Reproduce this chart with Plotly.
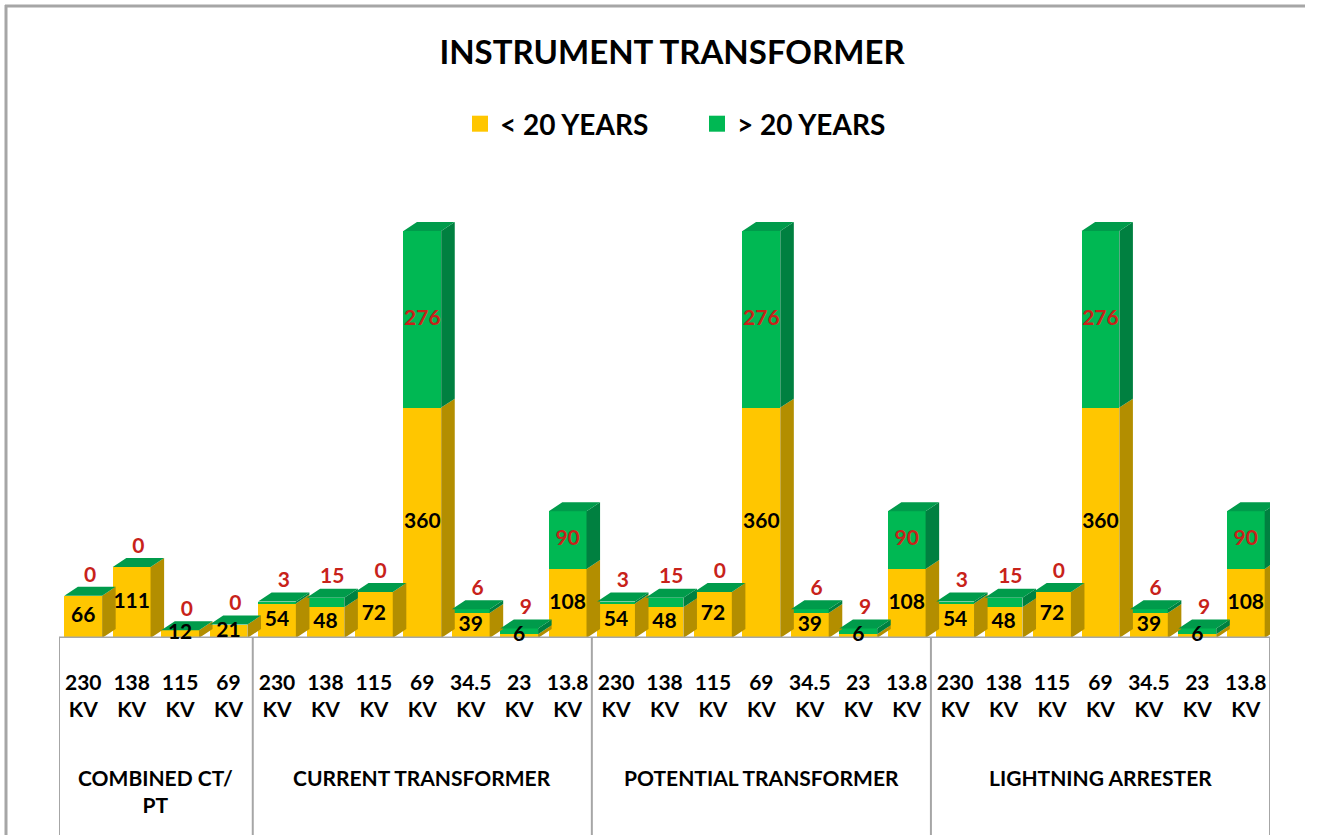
import plotly.graph_objects as go

# ---------------- data ----------------
groups = ["COMBINED CT/<br>PT", "CURRENT TRANSFORMER", "POTENTIAL TRANSFORMER", "LIGHTNING ARRESTER"]
group_voltages = [
    ["230<br>KV", "138<br>KV", "115<br>KV", "69<br>KV"],
    ["230<br>KV", "138<br>KV", "115<br>KV", "69<br>KV", "34.5<br>KV", "23<br>KV", "13.8<br>KV"],
    ["230<br>KV", "138<br>KV", "115<br>KV", "69<br>KV", "34.5<br>KV", "23<br>KV", "13.8<br>KV"],
    ["230<br>KV", "138<br>KV", "115<br>KV", "69<br>KV", "34.5<br>KV", "23<br>KV", "13.8<br>KV"],
]
under_20 = [66, 111, 12, 21,
            54, 48, 72, 360, 39, 6, 108,
            54, 48, 72, 360, 39, 6, 108,
            54, 48, 72, 360, 39, 6, 108]
over_20 = [0, 0, 0, 0,
           3, 15, 0, 276, 6, 9, 90,
           3, 15, 0, 276, 6, 9, 90,
           3, 15, 0, 276, 6, 9, 90]
series_names = ["&lt; 20 YEARS", "&gt; 20 YEARS"]
title_text = "INSTRUMENT TRANSFORMER"

# ---------------- styling ----------------
FONT = "Lato, Calibri, 'Open Sans', sans-serif"
YEL = "#FFC600"
YEL_SIDE = "#B38E00"
GRN = "#00B853"
GRN_SIDE = "#008040"
GRN_TOP = "#009B4B"
RED = "#C8221A"
GRAY = "#A6A6A6"

BAR_W = 0.78
DX = 0.28      # depth offset in category units
DY = 14        # depth offset in value units

tick_text = [t for g in group_voltages for t in g]
n = len(tick_text)
xs = list(range(n))

fig = go.Figure()

# front faces (real bars)
fig.add_trace(go.Bar(x=xs, y=under_20, name=series_names[0], marker=dict(color=YEL, line=dict(width=0)),
                     width=BAR_W, showlegend=False, hoverinfo="skip", legendgroup="a"))
fig.add_trace(go.Bar(x=xs, y=over_20, name=series_names[1], marker=dict(color=GRN, line=dict(width=0)),
                     width=BAR_W, showlegend=False, hoverinfo="skip", legendgroup="b"))

# 3D faces derived from the data
def poly_trace(polys, color):
    pxs, pys = [], []
    for p in polys:
        for (a, b) in p:
            pxs.append(a)
            pys.append(b)
        pxs.append(p[0][0]); pys.append(p[0][1])
        pxs.append(None); pys.append(None)
    return go.Scatter(x=pxs, y=pys, mode="lines", fill="toself", fillcolor=color,
                      line=dict(width=0, color=color), showlegend=False, hoverinfo="skip",
                      cliponaxis=False)

ys_side, gs_side, tops = [], [], []
for x, a, b in zip(xs, under_20, over_20):
    r = x + BAR_W / 2
    l = x - BAR_W / 2
    t = a + b
    ys_side.append([(r, 0), (r + DX, DY), (r + DX, a + DY), (r, a)])
    if b > 0:
        gs_side.append([(r, a), (r + DX, a + DY), (r + DX, t + DY), (r, t)])
    tops.append([(l, t), (r, t), (r + DX, t + DY), (l + DX, t + DY)])

fig.add_trace(poly_trace(ys_side, YEL_SIDE))
fig.add_trace(poly_trace(gs_side, GRN_SIDE))
fig.add_trace(poly_trace(tops, GRN_TOP))

# floor edge
fig.add_trace(go.Scatter(x=[-0.5 - 0.05, n - 0.5, n - 0.5 + DX], y=[0, 0, DY], mode="lines",
                         line=dict(color=GRAY, width=3), showlegend=False, hoverinfo="skip",
                         cliponaxis=False))

LABEL_SIZE = 21
# data labels
fig.add_trace(go.Scatter(x=xs, y=[a / 2 for a in under_20], text=[str(a) for a in under_20],
                         mode="text", textposition="middle center",
                         textfont=dict(family=FONT, size=LABEL_SIZE, color="black", weight=700),
                         showlegend=False, hoverinfo="skip", cliponaxis=False))
big_x, big_y, big_t, sm_x, sm_y, sm_t = [], [], [], [], [], []
for x, a, b in zip(xs, under_20, over_20):
    if b >= 30:
        big_x.append(x); big_y.append(a + b / 2); big_t.append(str(b))
    else:
        sm_x.append(x + DX / 2); sm_y.append(a + b + DY); sm_t.append(str(b))
fig.add_trace(go.Scatter(x=big_x, y=big_y, text=big_t, mode="text", textposition="middle center",
                         textfont=dict(family=FONT, size=LABEL_SIZE, color=RED, weight=700),
                         showlegend=False, hoverinfo="skip", cliponaxis=False))
fig.add_trace(go.Scatter(x=sm_x, y=sm_y, text=sm_t, mode="text", textposition="top center",
                         textfont=dict(family=FONT, size=LABEL_SIZE, color=RED, weight=700),
                         showlegend=False, hoverinfo="skip", cliponaxis=False))

# legend entries
for name, col, grp in [(series_names[0], YEL, "a"), (series_names[1], GRN, "b")]:
    fig.add_trace(go.Scatter(x=[None], y=[None], mode="markers", name=name, legendgroup=grp,
                             marker=dict(symbol="square", size=18, color=col)))

# plot geometry
L, R, T, B = 59, 56, 160, 197
W, H = 1326, 835
ph = H - T - B
pw = W - L - R
PX_PER_UNIT = 0.64
y_max = ph / PX_PER_UNIT

def py(pix):   # figure pixel y -> paper y
    return (H - B - pix) / ph

def px(pix):   # figure pixel x -> paper x
    return (pix - L) / pw

shapes = []
bounds = [-0.5]
for g in group_voltages:
    bounds.append(bounds[-1] + len(g))
for bx in bounds:
    shapes.append(dict(type="line", xref="x", yref="paper", x0=bx, x1=bx, y0=0, y1=py(H + 5),
                       line=dict(color=GRAY, width=2)))
# chart area border (top and left)
shapes.append(dict(type="line", xref="paper", yref="paper", x0=px(5), x1=px(1305), y0=py(6), y1=py(6),
                   line=dict(color=GRAY, width=3)))
shapes.append(dict(type="line", xref="paper", yref="paper", x0=px(6), x1=px(6), y0=py(5), y1=py(H + 5),
                   line=dict(color=GRAY, width=3)))

annotations = []
for i, g in enumerate(groups):
    cx = (bounds[i] + bounds[i + 1]) / 2
    annotations.append(dict(x=cx, y=py(763), xref="x", yref="paper", text=g, showarrow=False,
                            xanchor="center", yanchor="top",
                            font=dict(family=FONT, size=21, color="black", weight=700)))

fig.update_layout(
    width=W, height=H,
    margin=dict(l=L, r=R, t=T, b=B, pad=0),
    paper_bgcolor="white", plot_bgcolor="white",
    barmode="stack",
    title=dict(text=title_text, x=672 / W, y=1 - 52 / H, xanchor="center", yanchor="middle",
               font=dict(family=FONT, size=33, color="black", weight=700)),
    legend=dict(orientation="h", x=px(697), y=py(124), xanchor="center", yanchor="middle",
                font=dict(family=FONT, size=28, color="black", weight=700),
                entrywidth=192, entrywidthmode="pixels", itemclick=False, itemdoubleclick=False),
    xaxis=dict(range=[-0.5, n - 0.5], tickmode="array", tickvals=xs, ticktext=tick_text,
               showgrid=False, zeroline=False, showline=False, ticks="",
               tickfont=dict(family=FONT, size=21, color="black", weight=700),
               ticklabelstandoff=30, fixedrange=True),
    yaxis=dict(range=[0, y_max], visible=False, showgrid=False, zeroline=False, fixedrange=True),
    shapes=shapes,
    annotations=annotations,
    showlegend=True,
)

fig.write_html("out.html", config={"displayModeBar": False},
               post_script="document.body.style.margin='0';document.body.style.overflow='hidden';")
